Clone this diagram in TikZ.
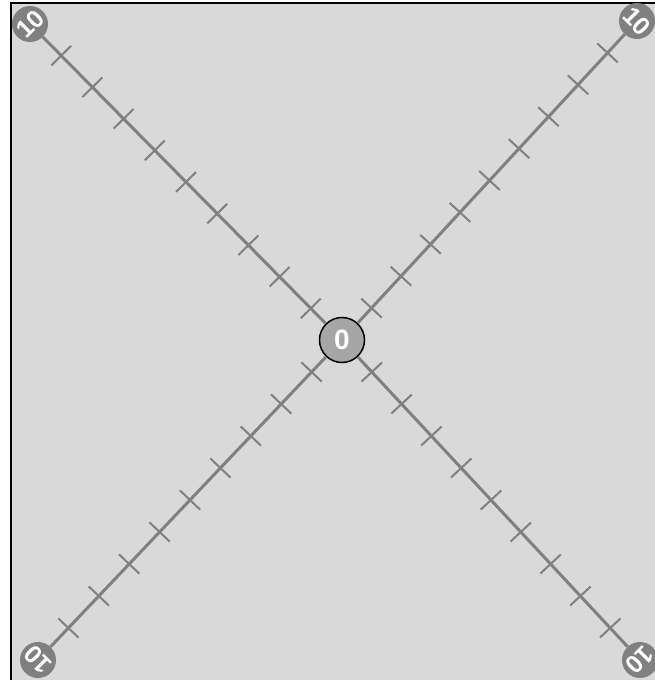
\documentclass[tikz,border=0pt]{standalone}
\usepackage{fontspec}
\setmainfont{Liberation Sans}
\usetikzlibrary{calc}
\definecolor{panelgray}{HTML}{D9D9D9}
\definecolor{raygray}{HTML}{808080}
\definecolor{hubgray}{HTML}{A6A6A6}

\begin{document}
\begin{tikzpicture}[
    x=1pt, y=-1pt,
    ray/.style={draw=raygray, line width=3pt},
    tick/.style={draw=raygray, line width=2pt},
    endpt/.style={circle, fill=raygray, inner sep=0pt, minimum size=36pt, text=white, font=\bfseries\fontsize{25}{25}\selectfont},
    hub/.style={circle, fill=hubgray, draw=black, line width=1.5pt, inner sep=0pt, minimum size=45pt, text=white, font=\bfseries\fontsize{28}{28}\selectfont}
]
\useasboundingbox (0,0) rectangle (655,680);
\clip (0,0) rectangle (655,680);
\draw[fill=panelgray, line width=1.5pt] (11,3) rectangle (660,690);

% hub and the four ends
\node[hub] (hub) at (342,340) {0};
\node[endpt, rotate=45] (tl) at (30,24) {10};
\node[endpt, rotate=-45] (tr) at (637,21) {10};
\node[endpt, rotate=135] (bl) at (38,660) {10};
\node[endpt, rotate=225] (br) at (640,660) {10};

% rays with ticks
\foreach \e in {tl,tr,bl,br} {
  \draw[ray] (hub) -- (\e);
  \foreach \k in {1,...,9} {
    \coordinate (p) at ($(hub)!\k/10!(\e)$);
    \draw[tick] ($(p)!14pt!90:(\e)$) -- ($(p)!14pt!-90:(\e)$);
  }
}
\end{tikzpicture}
\end{document}
